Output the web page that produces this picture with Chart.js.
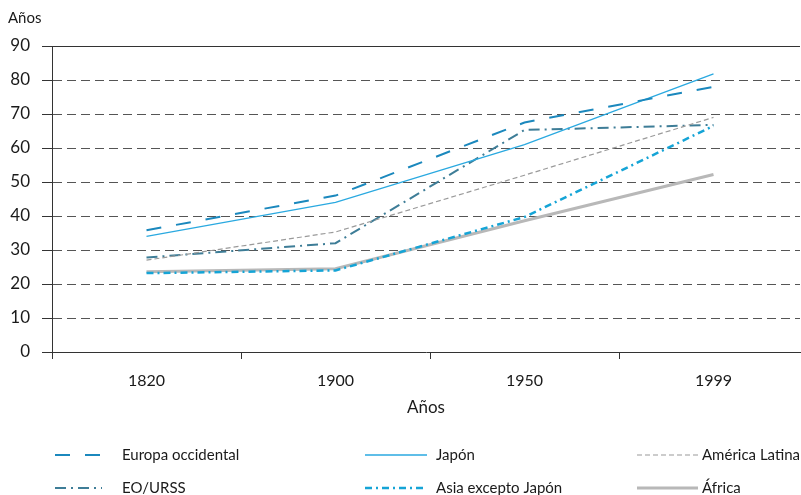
<!DOCTYPE html>
<html>
<head>
<meta charset="utf-8">
<script src="https://cdn.jsdelivr.net/npm/chart.js@4"></script>
<style>
  html, body { margin: 0; padding: 0; background: #fff; }
  #wrap { width: 801px; height: 495px; }
</style>
</head>
<body>
<div id="wrap"><canvas id="chart" width="801" height="495"></canvas></div>
<script>
const years = ['1820', '1900', '1950', '1999'];
const europa = [35.8, 46, 67.5, 78];
const japon = [34, 44, 61, 81.8];
const latina = [27, 35.3, 52, 69];
const urss = [27.8, 32, 65.3, 66.8];
const asia = [23.2, 24, 39.7, 66.5];
const africa = [23.6, 24.5, 38.6, 52.2];
const yTicks = [0, 10, 20, 30, 40, 50, 60, 70, 80, 90];

const FONT = 'Lato, "Open Sans", sans-serif';

function pts(vals) {
  return vals.map((v, i) => ({ x: i, y: v }));
}

const series = [
  { label: 'Europa occidental', data: europa, color: '#1b88bd', width: 2, dash: [15, 15] },
  { label: 'Japón', data: japon, color: '#2aa9e0', width: 1.3, dash: [] },
  { label: 'América Latina', data: latina, color: '#9a9a9a', width: 1.2, dash: [5, 3] },
  { label: 'EO/URSS', data: urss, color: '#3e7d97', width: 2, dash: [11, 5, 2, 5] },
  { label: 'Asia excepto Japón', data: asia, color: '#15a4d6', width: 2.5, dash: [7, 4, 2, 4] },
  { label: 'África', data: africa, color: '#b8b8b8', width: 3, dash: [] }
];

// legend slots: [lineStart, lineEnd, textX, y]
const legendSlots = [
  [55, 102, 122, 455], [365, 427, 436, 455], [637, 698, 702, 455],
  [55, 102, 122, 488], [365, 427, 436, 488], [637, 698, 702, 488]
];

const extras = {
  id: 'extras',
  afterDraw(chart) {
    const ctx = chart.ctx;
    const a = chart.chartArea;
    ctx.save();
    // top solid line at 90
    ctx.strokeStyle = '#333';
    ctx.lineWidth = 1;
    ctx.setLineDash([]);
    ctx.beginPath();
    ctx.moveTo(a.left - 10, a.top + 0.5);
    ctx.lineTo(a.right, a.top + 0.5);
    ctx.stroke();

    ctx.fillStyle = '#1a1a1a';
    ctx.textBaseline = 'middle';
    ctx.font = '15px ' + FONT;
    ctx.textAlign = 'left';
    ctx.fillText('Años', 8, 18);
    ctx.font = '17px ' + FONT;
    ctx.textAlign = 'center';
    ctx.fillText('Años', (a.left + a.right) / 2, 408);

    // legend
    ctx.font = '15px ' + FONT;
    ctx.textAlign = 'left';
    chart.data.datasets.forEach((ds, i) => {
      const s = legendSlots[i];
      ctx.strokeStyle = ds.borderColor;
      ctx.lineWidth = ds.borderWidth;
      ctx.setLineDash(ds.borderDash);
      ctx.beginPath();
      ctx.moveTo(s[0], s[3]);
      ctx.lineTo(s[1], s[3]);
      ctx.stroke();
      ctx.setLineDash([]);
      ctx.fillStyle = '#1a1a1a';
      ctx.fillText(ds.label, s[2], s[3]);
    });
    ctx.restore();
  }
};

new Chart(document.getElementById('chart'), {
  type: 'line',
  data: {
    datasets: series.map(s => ({
      label: s.label,
      data: pts(s.data),
      borderColor: s.color,
      backgroundColor: s.color,
      borderWidth: s.width,
      borderDash: s.dash,
      pointRadius: 0,
      tension: 0,
      fill: false
    }))
  },
  options: {
    responsive: false,
    animation: false,
    layout: { padding: { top: 46, bottom: 63, right: 1, left: 0 } },
    plugins: { legend: { display: false }, tooltip: { enabled: false } },
    scales: {
      x: {
        type: 'linear',
        min: -0.5,
        max: -0.5 + 748 / 189,
        afterBuildTicks(scale) {
          scale.ticks = [-0.5, 0, 0.5, 1, 1.5, 2, 2.5, 3].map(v => ({ value: v }));
        },
        afterFit(scale) { scale.height = 80; },
        ticks: {
          autoSkip: false,
          maxRotation: 0,
          padding: 12,
          color: '#1a1a1a',
          font: { family: FONT, size: 16 },
          callback: v => Number.isInteger(v) ? years[v] : ''
        },
        grid: {
          drawOnChartArea: false,
          tickLength: 7,
          tickColor: ctx => (ctx.tick && Number.isInteger(ctx.tick.value)) ? 'rgba(0,0,0,0)' : '#333'
        },
        border: { color: '#333', width: 1 }
      },
      y: {
        min: 0,
        max: 90,
        afterBuildTicks(scale) {
          scale.ticks = yTicks.map(v => ({ value: v }));
        },
        afterFit(scale) { scale.width = 52; },
        ticks: {
          padding: 12,
          color: '#1a1a1a',
          font: { family: FONT, size: 17 }
        },
        grid: {
          color: '#555',
          lineWidth: 1,
          tickLength: 10,
          tickColor: '#333',
          tickBorderDash: []
        },
        border: { color: '#333', width: 1, dash: [9, 5] }
      }
    }
  },
  plugins: [extras]
});
</script>
</body>
</html>
